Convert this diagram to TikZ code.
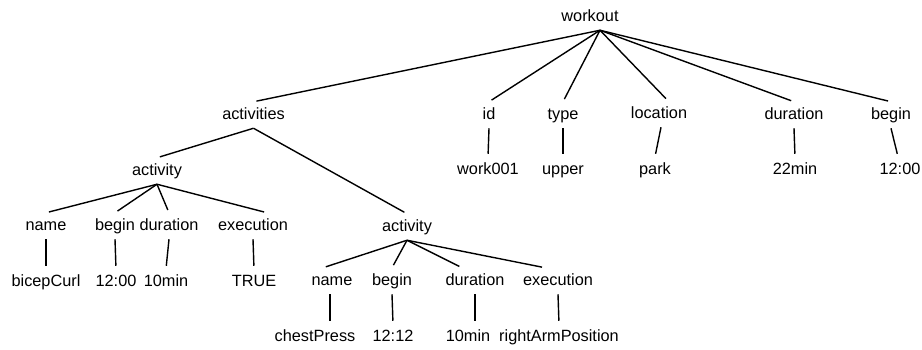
\documentclass[tikz,border=0pt]{standalone}
\usepackage{fontspec}
\setmainfont{Liberation Sans}

\begin{document}
\begin{tikzpicture}[x=1pt,y=-1pt,
    lbl/.style={font=\fontsize{16.3}{19}\selectfont,inner xsep=1pt,inner ysep=5.5pt,
      text height=11.7pt,text depth=3.4pt},
    link/.style={line width=1.4pt,shorten >=3pt}]
    \useasboundingbox (0,0) rectangle (922,350);

    % root and its direct children
    \node[lbl] (workout) at (590,17) {workout};
    \node[lbl] (activities) at (253.5,115) {activities};
    \node[lbl] (id) at (489,115) {id};
    \node[lbl] (type) at (563,115) {type};
    \node[lbl] (location) at (659,114) {location};
    \node[lbl] (duration) at (794,115) {duration};
    \node[lbl] (begin) at (891,115) {begin};

    \node[lbl] (work) at (488,170) {work001};
    \node[lbl] (upper) at (563,170) {upper};
    \node[lbl] (park) at (655,170) {park};
    \node[lbl] (total) at (795,170) {22min};
    \node[lbl] (start) at (900,170) {12:00};

    % first activity
    \node[lbl] (actA) at (157,171) {activity};
    \node[lbl] (nameA) at (46,226) {name};
    \node[lbl] (beginA) at (115,226) {begin};
    \node[lbl] (durA) at (169,226) {duration};
    \node[lbl] (execA) at (253,226) {execution};
    \node[lbl] (curl) at (46,282) {bicepCurl};
    \node[lbl] (timeA) at (116,282) {12:00};
    \node[lbl] (minA) at (166,282) {10min};
    \node[lbl] (flag) at (254,282) {TRUE};

    % second activity
    \node[lbl] (actB) at (407,227) {activity};
    \node[lbl] (nameB) at (332,281) {name};
    \node[lbl] (beginB) at (392,281) {begin};
    \node[lbl] (durB) at (475,281) {duration};
    \node[lbl] (execB) at (558,281) {execution};
    \node[lbl] (press) at (315,337) {chestPress};
    \node[lbl] (timeB) at (393,337) {12:12};
    \node[lbl] (minB) at (468,337) {10min};
    \node[lbl] (armpos) at (559,337) {rightArmPosition};

    % edges
    \foreach \c in {activities,id,type,duration,begin}
        \draw[link] ([xshift=10pt]workout.south) -- (\c.north);
    \draw[link] ([xshift=10pt]workout.south) -- ([xshift=9pt]location.north);
    \foreach \p/\c in {id/work,type/upper,duration/total,
        activities/actA,activities/actB,
        actA/nameA,actA/beginA,actA/durA,
        nameA/curl,beginA/timeA,durA/minA,execA/flag,
        actB/beginB,beginB/timeB,execB/armpos}
        \draw[link] (\p.south) -- (\c.north);
    \draw[link] ([xshift=2pt]location.south) -- (park.north);
    \draw[link] (begin.south) -- ([xshift=-2pt]start.north);
    \draw[link] (actA.south) -- ([xshift=14pt]execA.north);
    \draw[link] (actB.south) -- ([xshift=-9pt]nameB.north);
    \draw[link] (actB.south) -- ([xshift=-13pt]durB.north);
    \draw[link] (actB.south) -- ([xshift=-13pt]execB.north);
    \draw[link] ([xshift=-2pt]nameB.south) -- ([xshift=15pt]press.north);
    \draw[link] (durB.south) -- ([xshift=7pt]minB.north);
\end{tikzpicture}
\end{document}
